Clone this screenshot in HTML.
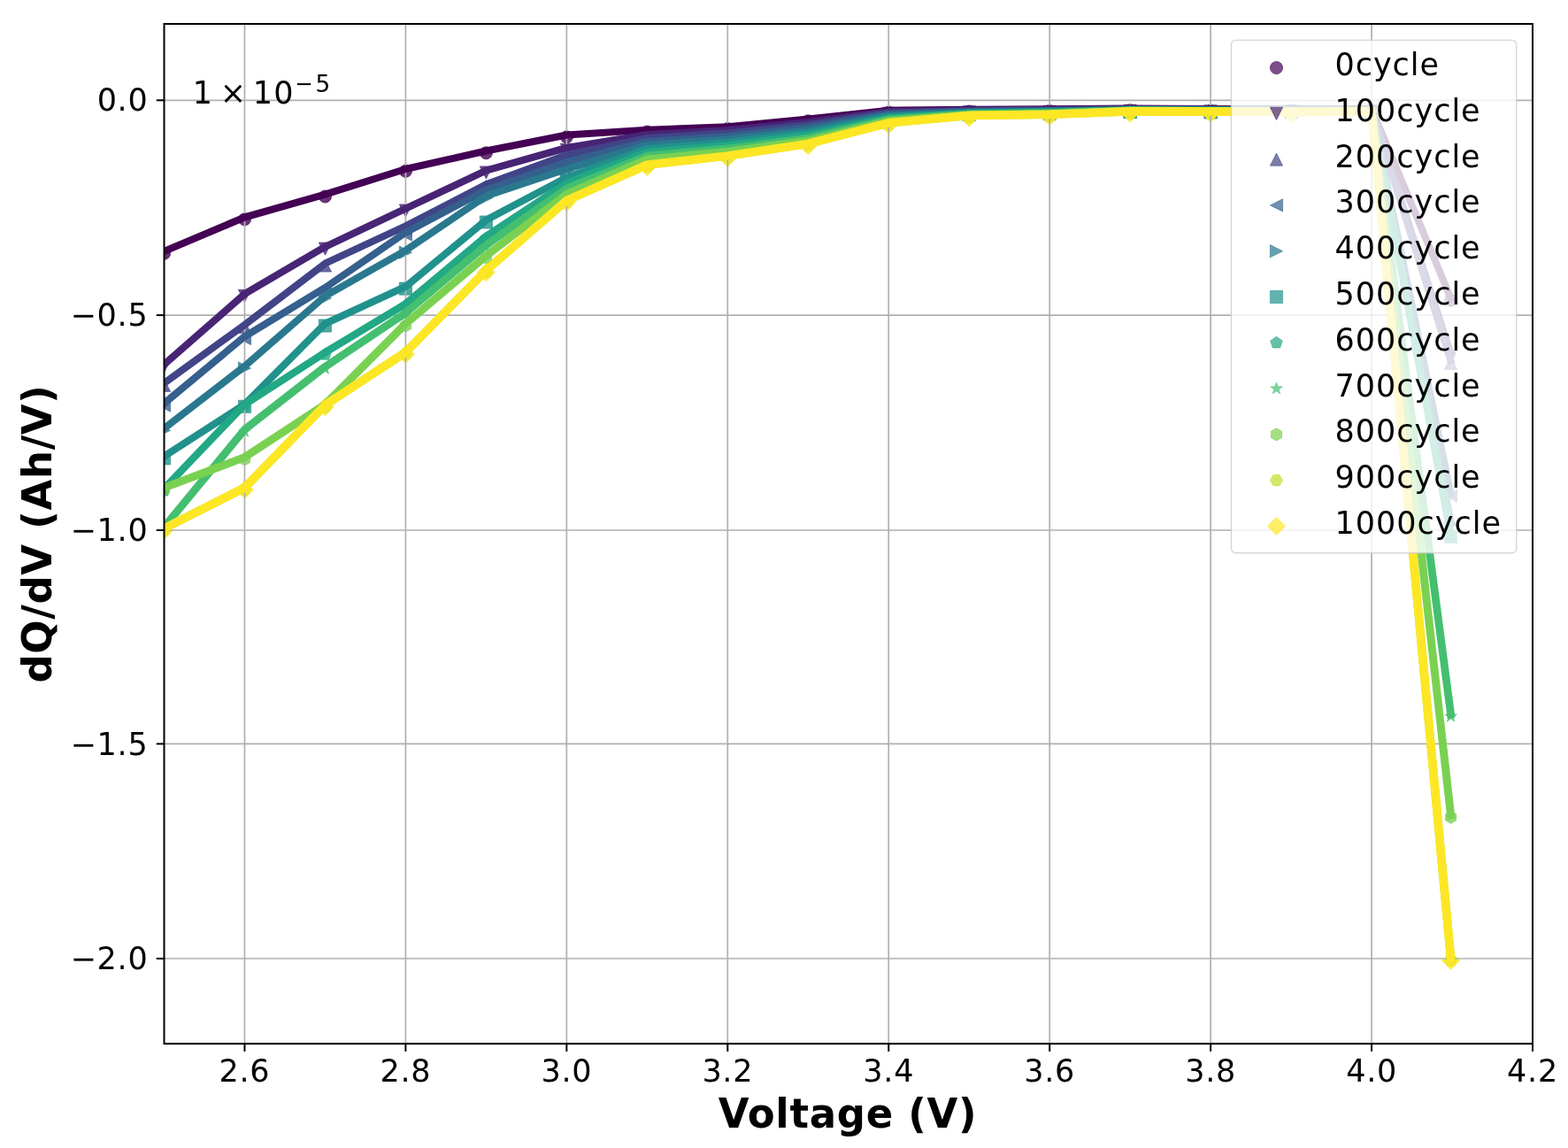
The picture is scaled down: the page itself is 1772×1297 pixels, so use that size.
<!DOCTYPE html>
<html lang="en"><head><meta charset="utf-8"><title>dQ/dV vs Voltage</title>
<style>html,body{margin:0;padding:0;background:#fff;}body{width:1772px;height:1297px;overflow:hidden;}svg text{white-space:pre;}</style>
</head><body>
<svg width="1772" height="1297" viewBox="0 0 1772 1297" style="display:block">
<rect x="0" y="0" width="1772" height="1297" fill="#ffffff"/>
<defs><clipPath id="ax"><rect x="185.5" y="27.0" width="1546.5" height="1152.2"/></clipPath></defs>
<g clip-path="url(#ax)">
<circle cx="185.50" cy="286.30" r="7.10" fill="#440154" stroke="#440154" stroke-width="0.80" fill-opacity="0.8" stroke-opacity="0.8"/>
<circle cx="276.47" cy="247.80" r="7.10" fill="#440154" stroke="#440154" stroke-width="0.80" fill-opacity="0.8" stroke-opacity="0.8"/>
<circle cx="367.44" cy="222.00" r="7.10" fill="#440154" stroke="#440154" stroke-width="0.80" fill-opacity="0.8" stroke-opacity="0.8"/>
<circle cx="458.41" cy="193.30" r="7.10" fill="#440154" stroke="#440154" stroke-width="0.80" fill-opacity="0.8" stroke-opacity="0.8"/>
<circle cx="549.38" cy="172.80" r="7.10" fill="#440154" stroke="#440154" stroke-width="0.80" fill-opacity="0.8" stroke-opacity="0.8"/>
<circle cx="640.35" cy="154.80" r="7.10" fill="#440154" stroke="#440154" stroke-width="0.80" fill-opacity="0.8" stroke-opacity="0.8"/>
<circle cx="731.32" cy="149.00" r="7.10" fill="#440154" stroke="#440154" stroke-width="0.80" fill-opacity="0.8" stroke-opacity="0.8"/>
<circle cx="822.29" cy="145.60" r="7.10" fill="#440154" stroke="#440154" stroke-width="0.80" fill-opacity="0.8" stroke-opacity="0.8"/>
<circle cx="913.26" cy="136.80" r="7.10" fill="#440154" stroke="#440154" stroke-width="0.80" fill-opacity="0.8" stroke-opacity="0.8"/>
<circle cx="1004.24" cy="127.00" r="7.10" fill="#440154" stroke="#440154" stroke-width="0.80" fill-opacity="0.8" stroke-opacity="0.8"/>
<circle cx="1095.21" cy="126.00" r="7.10" fill="#440154" stroke="#440154" stroke-width="0.80" fill-opacity="0.8" stroke-opacity="0.8"/>
<circle cx="1186.18" cy="125.60" r="7.10" fill="#440154" stroke="#440154" stroke-width="0.80" fill-opacity="0.8" stroke-opacity="0.8"/>
<circle cx="1277.15" cy="124.80" r="7.10" fill="#440154" stroke="#440154" stroke-width="0.80" fill-opacity="0.8" stroke-opacity="0.8"/>
<circle cx="1368.12" cy="125.30" r="7.10" fill="#440154" stroke="#440154" stroke-width="0.80" fill-opacity="0.8" stroke-opacity="0.8"/>
<circle cx="1459.09" cy="125.30" r="7.10" fill="#440154" stroke="#440154" stroke-width="0.80" fill-opacity="0.8" stroke-opacity="0.8"/>
<circle cx="1550.06" cy="125.30" r="7.10" fill="#440154" stroke="#440154" stroke-width="0.80" fill-opacity="0.8" stroke-opacity="0.8"/>
<circle cx="1639.57" cy="339.30" r="7.10" fill="#440154" stroke="#440154" stroke-width="0.80" fill-opacity="0.8" stroke-opacity="0.8"/>
<polygon points="185.50,421.10 192.60,406.90 178.40,406.90" fill="#482475" stroke="#482475" stroke-width="0.80" stroke-linejoin="round" fill-opacity="0.8" stroke-opacity="0.8"/>
<polygon points="276.47,341.50 283.57,327.30 269.37,327.30" fill="#482475" stroke="#482475" stroke-width="0.80" stroke-linejoin="round" fill-opacity="0.8" stroke-opacity="0.8"/>
<polygon points="367.44,288.20 374.54,274.00 360.34,274.00" fill="#482475" stroke="#482475" stroke-width="0.80" stroke-linejoin="round" fill-opacity="0.8" stroke-opacity="0.8"/>
<polygon points="458.41,245.10 465.51,230.90 451.31,230.90" fill="#482475" stroke="#482475" stroke-width="0.80" stroke-linejoin="round" fill-opacity="0.8" stroke-opacity="0.8"/>
<polygon points="549.38,202.10 556.48,187.90 542.28,187.90" fill="#482475" stroke="#482475" stroke-width="0.80" stroke-linejoin="round" fill-opacity="0.8" stroke-opacity="0.8"/>
<polygon points="640.35,176.40 647.45,162.20 633.25,162.20" fill="#482475" stroke="#482475" stroke-width="0.80" stroke-linejoin="round" fill-opacity="0.8" stroke-opacity="0.8"/>
<polygon points="731.32,161.40 738.42,147.20 724.22,147.20" fill="#482475" stroke="#482475" stroke-width="0.80" stroke-linejoin="round" fill-opacity="0.8" stroke-opacity="0.8"/>
<polygon points="822.29,156.40 829.39,142.20 815.19,142.20" fill="#482475" stroke="#482475" stroke-width="0.80" stroke-linejoin="round" fill-opacity="0.8" stroke-opacity="0.8"/>
<polygon points="913.26,147.40 920.36,133.20 906.16,133.20" fill="#482475" stroke="#482475" stroke-width="0.80" stroke-linejoin="round" fill-opacity="0.8" stroke-opacity="0.8"/>
<polygon points="1004.24,135.40 1011.34,121.20 997.14,121.20" fill="#482475" stroke="#482475" stroke-width="0.80" stroke-linejoin="round" fill-opacity="0.8" stroke-opacity="0.8"/>
<polygon points="1095.21,133.90 1102.31,119.70 1088.11,119.70" fill="#482475" stroke="#482475" stroke-width="0.80" stroke-linejoin="round" fill-opacity="0.8" stroke-opacity="0.8"/>
<polygon points="1186.18,133.40 1193.28,119.20 1179.08,119.20" fill="#482475" stroke="#482475" stroke-width="0.80" stroke-linejoin="round" fill-opacity="0.8" stroke-opacity="0.8"/>
<polygon points="1277.15,132.40 1284.25,118.20 1270.05,118.20" fill="#482475" stroke="#482475" stroke-width="0.80" stroke-linejoin="round" fill-opacity="0.8" stroke-opacity="0.8"/>
<polygon points="1368.12,132.90 1375.22,118.70 1361.02,118.70" fill="#482475" stroke="#482475" stroke-width="0.80" stroke-linejoin="round" fill-opacity="0.8" stroke-opacity="0.8"/>
<polygon points="1459.09,132.90 1466.19,118.70 1451.99,118.70" fill="#482475" stroke="#482475" stroke-width="0.80" stroke-linejoin="round" fill-opacity="0.8" stroke-opacity="0.8"/>
<polygon points="1550.06,132.90 1557.16,118.70 1542.96,118.70" fill="#482475" stroke="#482475" stroke-width="0.80" stroke-linejoin="round" fill-opacity="0.8" stroke-opacity="0.8"/>
<polygon points="1639.57,409.40 1646.67,395.20 1632.47,395.20" fill="#482475" stroke="#482475" stroke-width="0.80" stroke-linejoin="round" fill-opacity="0.8" stroke-opacity="0.8"/>
<polygon points="185.50,428.20 178.40,442.40 192.60,442.40" fill="#414487" stroke="#414487" stroke-width="0.80" stroke-linejoin="round" fill-opacity="0.8" stroke-opacity="0.8"/>
<polygon points="276.47,362.20 269.37,376.40 283.57,376.40" fill="#414487" stroke="#414487" stroke-width="0.80" stroke-linejoin="round" fill-opacity="0.8" stroke-opacity="0.8"/>
<polygon points="367.44,292.90 360.34,307.10 374.54,307.10" fill="#414487" stroke="#414487" stroke-width="0.80" stroke-linejoin="round" fill-opacity="0.8" stroke-opacity="0.8"/>
<polygon points="458.41,250.60 451.31,264.80 465.51,264.80" fill="#414487" stroke="#414487" stroke-width="0.80" stroke-linejoin="round" fill-opacity="0.8" stroke-opacity="0.8"/>
<polygon points="549.38,203.50 542.28,217.70 556.48,217.70" fill="#414487" stroke="#414487" stroke-width="0.80" stroke-linejoin="round" fill-opacity="0.8" stroke-opacity="0.8"/>
<polygon points="640.35,170.20 633.25,184.40 647.45,184.40" fill="#414487" stroke="#414487" stroke-width="0.80" stroke-linejoin="round" fill-opacity="0.8" stroke-opacity="0.8"/>
<polygon points="731.32,151.20 724.22,165.40 738.42,165.40" fill="#414487" stroke="#414487" stroke-width="0.80" stroke-linejoin="round" fill-opacity="0.8" stroke-opacity="0.8"/>
<polygon points="822.29,145.70 815.19,159.90 829.39,159.90" fill="#414487" stroke="#414487" stroke-width="0.80" stroke-linejoin="round" fill-opacity="0.8" stroke-opacity="0.8"/>
<polygon points="913.26,136.20 906.16,150.40 920.36,150.40" fill="#414487" stroke="#414487" stroke-width="0.80" stroke-linejoin="round" fill-opacity="0.8" stroke-opacity="0.8"/>
<polygon points="1004.24,122.70 997.14,136.90 1011.34,136.90" fill="#414487" stroke="#414487" stroke-width="0.80" stroke-linejoin="round" fill-opacity="0.8" stroke-opacity="0.8"/>
<polygon points="1095.21,120.40 1088.11,134.60 1102.31,134.60" fill="#414487" stroke="#414487" stroke-width="0.80" stroke-linejoin="round" fill-opacity="0.8" stroke-opacity="0.8"/>
<polygon points="1186.18,119.80 1179.08,134.00 1193.28,134.00" fill="#414487" stroke="#414487" stroke-width="0.80" stroke-linejoin="round" fill-opacity="0.8" stroke-opacity="0.8"/>
<polygon points="1277.15,118.60 1270.05,132.80 1284.25,132.80" fill="#414487" stroke="#414487" stroke-width="0.80" stroke-linejoin="round" fill-opacity="0.8" stroke-opacity="0.8"/>
<polygon points="1368.12,119.00 1361.02,133.20 1375.22,133.20" fill="#414487" stroke="#414487" stroke-width="0.80" stroke-linejoin="round" fill-opacity="0.8" stroke-opacity="0.8"/>
<polygon points="1459.09,119.00 1451.99,133.20 1466.19,133.20" fill="#414487" stroke="#414487" stroke-width="0.80" stroke-linejoin="round" fill-opacity="0.8" stroke-opacity="0.8"/>
<polygon points="1550.06,119.00 1542.96,133.20 1557.16,133.20" fill="#414487" stroke="#414487" stroke-width="0.80" stroke-linejoin="round" fill-opacity="0.8" stroke-opacity="0.8"/>
<polygon points="1639.57,403.20 1632.47,417.40 1646.67,417.40" fill="#414487" stroke="#414487" stroke-width="0.80" stroke-linejoin="round" fill-opacity="0.8" stroke-opacity="0.8"/>
<polygon points="178.40,458.00 192.60,465.10 192.60,450.90" fill="#355f8d" stroke="#355f8d" stroke-width="0.80" stroke-linejoin="round" fill-opacity="0.8" stroke-opacity="0.8"/>
<polygon points="269.37,382.50 283.57,389.60 283.57,375.40" fill="#355f8d" stroke="#355f8d" stroke-width="0.80" stroke-linejoin="round" fill-opacity="0.8" stroke-opacity="0.8"/>
<polygon points="360.34,327.30 374.54,334.40 374.54,320.20" fill="#355f8d" stroke="#355f8d" stroke-width="0.80" stroke-linejoin="round" fill-opacity="0.8" stroke-opacity="0.8"/>
<polygon points="451.31,265.00 465.51,272.10 465.51,257.90" fill="#355f8d" stroke="#355f8d" stroke-width="0.80" stroke-linejoin="round" fill-opacity="0.8" stroke-opacity="0.8"/>
<polygon points="542.28,216.90 556.48,224.00 556.48,209.80" fill="#355f8d" stroke="#355f8d" stroke-width="0.80" stroke-linejoin="round" fill-opacity="0.8" stroke-opacity="0.8"/>
<polygon points="633.25,185.30 647.45,192.40 647.45,178.20" fill="#355f8d" stroke="#355f8d" stroke-width="0.80" stroke-linejoin="round" fill-opacity="0.8" stroke-opacity="0.8"/>
<polygon points="724.22,162.30 738.42,169.40 738.42,155.20" fill="#355f8d" stroke="#355f8d" stroke-width="0.80" stroke-linejoin="round" fill-opacity="0.8" stroke-opacity="0.8"/>
<polygon points="815.19,156.30 829.39,163.40 829.39,149.20" fill="#355f8d" stroke="#355f8d" stroke-width="0.80" stroke-linejoin="round" fill-opacity="0.8" stroke-opacity="0.8"/>
<polygon points="906.16,146.30 920.36,153.40 920.36,139.20" fill="#355f8d" stroke="#355f8d" stroke-width="0.80" stroke-linejoin="round" fill-opacity="0.8" stroke-opacity="0.8"/>
<polygon points="997.14,131.30 1011.34,138.40 1011.34,124.20" fill="#355f8d" stroke="#355f8d" stroke-width="0.80" stroke-linejoin="round" fill-opacity="0.8" stroke-opacity="0.8"/>
<polygon points="1088.11,128.30 1102.31,135.40 1102.31,121.20" fill="#355f8d" stroke="#355f8d" stroke-width="0.80" stroke-linejoin="round" fill-opacity="0.8" stroke-opacity="0.8"/>
<polygon points="1179.08,127.50 1193.28,134.60 1193.28,120.40" fill="#355f8d" stroke="#355f8d" stroke-width="0.80" stroke-linejoin="round" fill-opacity="0.8" stroke-opacity="0.8"/>
<polygon points="1270.05,126.10 1284.25,133.20 1284.25,119.00" fill="#355f8d" stroke="#355f8d" stroke-width="0.80" stroke-linejoin="round" fill-opacity="0.8" stroke-opacity="0.8"/>
<polygon points="1361.02,126.40 1375.22,133.50 1375.22,119.30" fill="#355f8d" stroke="#355f8d" stroke-width="0.80" stroke-linejoin="round" fill-opacity="0.8" stroke-opacity="0.8"/>
<polygon points="1451.99,126.40 1466.19,133.50 1466.19,119.30" fill="#355f8d" stroke="#355f8d" stroke-width="0.80" stroke-linejoin="round" fill-opacity="0.8" stroke-opacity="0.8"/>
<polygon points="1542.96,126.40 1557.16,133.50 1557.16,119.30" fill="#355f8d" stroke="#355f8d" stroke-width="0.80" stroke-linejoin="round" fill-opacity="0.8" stroke-opacity="0.8"/>
<polygon points="1632.47,560.30 1646.67,567.40 1646.67,553.20" fill="#355f8d" stroke="#355f8d" stroke-width="0.80" stroke-linejoin="round" fill-opacity="0.8" stroke-opacity="0.8"/>
<polygon points="192.60,486.30 178.40,479.20 178.40,493.40" fill="#2a788e" stroke="#2a788e" stroke-width="0.80" stroke-linejoin="round" fill-opacity="0.8" stroke-opacity="0.8"/>
<polygon points="283.57,416.00 269.37,408.90 269.37,423.10" fill="#2a788e" stroke="#2a788e" stroke-width="0.80" stroke-linejoin="round" fill-opacity="0.8" stroke-opacity="0.8"/>
<polygon points="374.54,336.80 360.34,329.70 360.34,343.90" fill="#2a788e" stroke="#2a788e" stroke-width="0.80" stroke-linejoin="round" fill-opacity="0.8" stroke-opacity="0.8"/>
<polygon points="465.51,285.20 451.31,278.10 451.31,292.30" fill="#2a788e" stroke="#2a788e" stroke-width="0.80" stroke-linejoin="round" fill-opacity="0.8" stroke-opacity="0.8"/>
<polygon points="556.48,223.70 542.28,216.60 542.28,230.80" fill="#2a788e" stroke="#2a788e" stroke-width="0.80" stroke-linejoin="round" fill-opacity="0.8" stroke-opacity="0.8"/>
<polygon points="647.45,193.30 633.25,186.20 633.25,200.40" fill="#2a788e" stroke="#2a788e" stroke-width="0.80" stroke-linejoin="round" fill-opacity="0.8" stroke-opacity="0.8"/>
<polygon points="738.42,166.30 724.22,159.20 724.22,173.40" fill="#2a788e" stroke="#2a788e" stroke-width="0.80" stroke-linejoin="round" fill-opacity="0.8" stroke-opacity="0.8"/>
<polygon points="829.39,159.80 815.19,152.70 815.19,166.90" fill="#2a788e" stroke="#2a788e" stroke-width="0.80" stroke-linejoin="round" fill-opacity="0.8" stroke-opacity="0.8"/>
<polygon points="920.36,149.30 906.16,142.20 906.16,156.40" fill="#2a788e" stroke="#2a788e" stroke-width="0.80" stroke-linejoin="round" fill-opacity="0.8" stroke-opacity="0.8"/>
<polygon points="1011.34,132.80 997.14,125.70 997.14,139.90" fill="#2a788e" stroke="#2a788e" stroke-width="0.80" stroke-linejoin="round" fill-opacity="0.8" stroke-opacity="0.8"/>
<polygon points="1102.31,129.10 1088.11,122.00 1088.11,136.20" fill="#2a788e" stroke="#2a788e" stroke-width="0.80" stroke-linejoin="round" fill-opacity="0.8" stroke-opacity="0.8"/>
<polygon points="1193.28,128.10 1179.08,121.00 1179.08,135.20" fill="#2a788e" stroke="#2a788e" stroke-width="0.80" stroke-linejoin="round" fill-opacity="0.8" stroke-opacity="0.8"/>
<polygon points="1284.25,126.40 1270.05,119.30 1270.05,133.50" fill="#2a788e" stroke="#2a788e" stroke-width="0.80" stroke-linejoin="round" fill-opacity="0.8" stroke-opacity="0.8"/>
<polygon points="1375.22,126.70 1361.02,119.60 1361.02,133.80" fill="#2a788e" stroke="#2a788e" stroke-width="0.80" stroke-linejoin="round" fill-opacity="0.8" stroke-opacity="0.8"/>
<polygon points="1466.19,126.70 1451.99,119.60 1451.99,133.80" fill="#2a788e" stroke="#2a788e" stroke-width="0.80" stroke-linejoin="round" fill-opacity="0.8" stroke-opacity="0.8"/>
<polygon points="1557.16,126.70 1542.96,119.60 1542.96,133.80" fill="#2a788e" stroke="#2a788e" stroke-width="0.80" stroke-linejoin="round" fill-opacity="0.8" stroke-opacity="0.8"/>
<polygon points="1646.67,592.30 1632.47,585.20 1632.47,599.40" fill="#2a788e" stroke="#2a788e" stroke-width="0.80" stroke-linejoin="round" fill-opacity="0.8" stroke-opacity="0.8"/>
<polygon points="178.40,524.90 192.60,524.90 192.60,510.70 178.40,510.70" fill="#21918c" stroke="#21918c" stroke-width="0.80" stroke-linejoin="round" fill-opacity="0.8" stroke-opacity="0.8"/>
<polygon points="269.37,466.40 283.57,466.40 283.57,452.20 269.37,452.20" fill="#21918c" stroke="#21918c" stroke-width="0.80" stroke-linejoin="round" fill-opacity="0.8" stroke-opacity="0.8"/>
<polygon points="360.34,375.10 374.54,375.10 374.54,360.90 360.34,360.90" fill="#21918c" stroke="#21918c" stroke-width="0.80" stroke-linejoin="round" fill-opacity="0.8" stroke-opacity="0.8"/>
<polygon points="451.31,333.20 465.51,333.20 465.51,319.00 451.31,319.00" fill="#21918c" stroke="#21918c" stroke-width="0.80" stroke-linejoin="round" fill-opacity="0.8" stroke-opacity="0.8"/>
<polygon points="542.28,258.10 556.48,258.10 556.48,243.90 542.28,243.90" fill="#21918c" stroke="#21918c" stroke-width="0.80" stroke-linejoin="round" fill-opacity="0.8" stroke-opacity="0.8"/>
<polygon points="633.25,209.90 647.45,209.90 647.45,195.70 633.25,195.70" fill="#21918c" stroke="#21918c" stroke-width="0.80" stroke-linejoin="round" fill-opacity="0.8" stroke-opacity="0.8"/>
<polygon points="724.22,177.40 738.42,177.40 738.42,163.20 724.22,163.20" fill="#21918c" stroke="#21918c" stroke-width="0.80" stroke-linejoin="round" fill-opacity="0.8" stroke-opacity="0.8"/>
<polygon points="815.19,170.40 829.39,170.40 829.39,156.20 815.19,156.20" fill="#21918c" stroke="#21918c" stroke-width="0.80" stroke-linejoin="round" fill-opacity="0.8" stroke-opacity="0.8"/>
<polygon points="906.16,159.40 920.36,159.40 920.36,145.20 906.16,145.20" fill="#21918c" stroke="#21918c" stroke-width="0.80" stroke-linejoin="round" fill-opacity="0.8" stroke-opacity="0.8"/>
<polygon points="997.14,141.40 1011.34,141.40 1011.34,127.20 997.14,127.20" fill="#21918c" stroke="#21918c" stroke-width="0.80" stroke-linejoin="round" fill-opacity="0.8" stroke-opacity="0.8"/>
<polygon points="1088.11,136.90 1102.31,136.90 1102.31,122.70 1088.11,122.70" fill="#21918c" stroke="#21918c" stroke-width="0.80" stroke-linejoin="round" fill-opacity="0.8" stroke-opacity="0.8"/>
<polygon points="1179.08,135.80 1193.28,135.80 1193.28,121.60 1179.08,121.60" fill="#21918c" stroke="#21918c" stroke-width="0.80" stroke-linejoin="round" fill-opacity="0.8" stroke-opacity="0.8"/>
<polygon points="1270.05,133.80 1284.25,133.80 1284.25,119.60 1270.05,119.60" fill="#21918c" stroke="#21918c" stroke-width="0.80" stroke-linejoin="round" fill-opacity="0.8" stroke-opacity="0.8"/>
<polygon points="1361.02,134.10 1375.22,134.10 1375.22,119.90 1361.02,119.90" fill="#21918c" stroke="#21918c" stroke-width="0.80" stroke-linejoin="round" fill-opacity="0.8" stroke-opacity="0.8"/>
<polygon points="1451.99,134.10 1466.19,134.10 1466.19,119.90 1451.99,119.90" fill="#21918c" stroke="#21918c" stroke-width="0.80" stroke-linejoin="round" fill-opacity="0.8" stroke-opacity="0.8"/>
<polygon points="1542.96,134.10 1557.16,134.10 1557.16,119.90 1542.96,119.90" fill="#21918c" stroke="#21918c" stroke-width="0.80" stroke-linejoin="round" fill-opacity="0.8" stroke-opacity="0.8"/>
<polygon points="1632.47,613.40 1646.67,613.40 1646.67,599.20 1632.47,599.20" fill="#21918c" stroke="#21918c" stroke-width="0.80" stroke-linejoin="round" fill-opacity="0.8" stroke-opacity="0.8"/>
<polygon points="185.50,547.20 178.75,552.11 181.33,560.04 189.67,560.04 192.25,552.11" fill="#22a884" stroke="#22a884" stroke-width="0.80" stroke-linejoin="round" fill-opacity="0.8" stroke-opacity="0.8"/>
<polygon points="276.47,452.20 269.72,457.11 272.30,465.04 280.64,465.04 283.22,457.11" fill="#22a884" stroke="#22a884" stroke-width="0.80" stroke-linejoin="round" fill-opacity="0.8" stroke-opacity="0.8"/>
<polygon points="367.44,393.40 360.69,398.31 363.27,406.24 371.61,406.24 374.19,398.31" fill="#22a884" stroke="#22a884" stroke-width="0.80" stroke-linejoin="round" fill-opacity="0.8" stroke-opacity="0.8"/>
<polygon points="458.41,338.50 451.66,343.41 454.24,351.34 462.59,351.34 465.16,343.41" fill="#22a884" stroke="#22a884" stroke-width="0.80" stroke-linejoin="round" fill-opacity="0.8" stroke-opacity="0.8"/>
<polygon points="549.38,262.20 542.63,267.11 545.21,275.04 553.56,275.04 556.13,267.11" fill="#22a884" stroke="#22a884" stroke-width="0.80" stroke-linejoin="round" fill-opacity="0.8" stroke-opacity="0.8"/>
<polygon points="640.35,202.20 633.60,207.11 636.18,215.04 644.53,215.04 647.11,207.11" fill="#22a884" stroke="#22a884" stroke-width="0.80" stroke-linejoin="round" fill-opacity="0.8" stroke-opacity="0.8"/>
<polygon points="731.32,167.20 724.57,172.11 727.15,180.04 735.50,180.04 738.08,172.11" fill="#22a884" stroke="#22a884" stroke-width="0.80" stroke-linejoin="round" fill-opacity="0.8" stroke-opacity="0.8"/>
<polygon points="822.29,159.70 815.54,164.61 818.12,172.54 826.47,172.54 829.05,164.61" fill="#22a884" stroke="#22a884" stroke-width="0.80" stroke-linejoin="round" fill-opacity="0.8" stroke-opacity="0.8"/>
<polygon points="913.26,148.20 906.51,153.11 909.09,161.04 917.44,161.04 920.02,153.11" fill="#22a884" stroke="#22a884" stroke-width="0.80" stroke-linejoin="round" fill-opacity="0.8" stroke-opacity="0.8"/>
<polygon points="1004.24,128.70 997.48,133.61 1000.06,141.54 1008.41,141.54 1010.99,133.61" fill="#22a884" stroke="#22a884" stroke-width="0.80" stroke-linejoin="round" fill-opacity="0.8" stroke-opacity="0.8"/>
<polygon points="1095.21,123.40 1088.45,128.31 1091.03,136.24 1099.38,136.24 1101.96,128.31" fill="#22a884" stroke="#22a884" stroke-width="0.80" stroke-linejoin="round" fill-opacity="0.8" stroke-opacity="0.8"/>
<polygon points="1186.18,122.20 1179.42,127.11 1182.00,135.04 1190.35,135.04 1192.93,127.11" fill="#22a884" stroke="#22a884" stroke-width="0.80" stroke-linejoin="round" fill-opacity="0.8" stroke-opacity="0.8"/>
<polygon points="1277.15,119.90 1270.39,124.81 1272.97,132.74 1281.32,132.74 1283.90,124.81" fill="#22a884" stroke="#22a884" stroke-width="0.80" stroke-linejoin="round" fill-opacity="0.8" stroke-opacity="0.8"/>
<polygon points="1368.12,120.20 1361.37,125.11 1363.94,133.04 1372.29,133.04 1374.87,125.11" fill="#22a884" stroke="#22a884" stroke-width="0.80" stroke-linejoin="round" fill-opacity="0.8" stroke-opacity="0.8"/>
<polygon points="1459.09,120.20 1452.34,125.11 1454.91,133.04 1463.26,133.04 1465.84,125.11" fill="#22a884" stroke="#22a884" stroke-width="0.80" stroke-linejoin="round" fill-opacity="0.8" stroke-opacity="0.8"/>
<polygon points="1550.06,120.20 1543.31,125.11 1545.89,133.04 1554.23,133.04 1556.81,125.11" fill="#22a884" stroke="#22a884" stroke-width="0.80" stroke-linejoin="round" fill-opacity="0.8" stroke-opacity="0.8"/>
<polygon points="1639.57,599.20 1632.82,604.11 1635.40,612.04 1643.75,612.04 1646.33,604.11" fill="#22a884" stroke="#22a884" stroke-width="0.80" stroke-linejoin="round" fill-opacity="0.8" stroke-opacity="0.8"/>
<polygon points="185.50,590.70 183.91,595.61 178.75,595.61 182.92,598.64 181.33,603.54 185.50,600.51 189.67,603.54 188.08,598.64 192.25,595.61 187.09,595.61" fill="#44bf70" stroke="#44bf70" stroke-width="0.80" stroke-linejoin="round" fill-opacity="0.8" stroke-opacity="0.8"/>
<polygon points="276.47,480.50 274.88,485.41 269.72,485.41 273.89,488.44 272.30,493.34 276.47,490.31 280.64,493.34 279.05,488.44 283.22,485.41 278.06,485.41" fill="#44bf70" stroke="#44bf70" stroke-width="0.80" stroke-linejoin="round" fill-opacity="0.8" stroke-opacity="0.8"/>
<polygon points="367.44,409.50 365.85,414.41 360.69,414.41 364.86,417.44 363.27,422.34 367.44,419.31 371.61,422.34 370.02,417.44 374.19,414.41 369.04,414.41" fill="#44bf70" stroke="#44bf70" stroke-width="0.80" stroke-linejoin="round" fill-opacity="0.8" stroke-opacity="0.8"/>
<polygon points="458.41,348.70 456.82,353.61 451.66,353.61 455.83,356.64 454.24,361.54 458.41,358.51 462.59,361.54 460.99,356.64 465.16,353.61 460.01,353.61" fill="#44bf70" stroke="#44bf70" stroke-width="0.80" stroke-linejoin="round" fill-opacity="0.8" stroke-opacity="0.8"/>
<polygon points="549.38,272.20 547.79,277.11 542.63,277.11 546.80,280.14 545.21,285.04 549.38,282.01 553.56,285.04 551.96,280.14 556.13,277.11 550.98,277.11" fill="#44bf70" stroke="#44bf70" stroke-width="0.80" stroke-linejoin="round" fill-opacity="0.8" stroke-opacity="0.8"/>
<polygon points="640.35,208.20 638.76,213.11 633.60,213.11 637.77,216.14 636.18,221.04 640.35,218.01 644.53,221.04 642.93,216.14 647.11,213.11 641.95,213.11" fill="#44bf70" stroke="#44bf70" stroke-width="0.80" stroke-linejoin="round" fill-opacity="0.8" stroke-opacity="0.8"/>
<polygon points="731.32,171.20 729.73,176.11 724.57,176.11 728.74,179.14 727.15,184.04 731.32,181.01 735.50,184.04 733.90,179.14 738.08,176.11 732.92,176.11" fill="#44bf70" stroke="#44bf70" stroke-width="0.80" stroke-linejoin="round" fill-opacity="0.8" stroke-opacity="0.8"/>
<polygon points="822.29,163.20 820.70,168.11 815.54,168.11 819.71,171.14 818.12,176.04 822.29,173.01 826.47,176.04 824.87,171.14 829.05,168.11 823.89,168.11" fill="#44bf70" stroke="#44bf70" stroke-width="0.80" stroke-linejoin="round" fill-opacity="0.8" stroke-opacity="0.8"/>
<polygon points="913.26,151.20 911.67,156.11 906.51,156.11 910.69,159.14 909.09,164.04 913.26,161.01 917.44,164.04 915.84,159.14 920.02,156.11 914.86,156.11" fill="#44bf70" stroke="#44bf70" stroke-width="0.80" stroke-linejoin="round" fill-opacity="0.8" stroke-opacity="0.8"/>
<polygon points="1004.24,130.20 1002.64,135.11 997.48,135.11 1001.66,138.14 1000.06,143.04 1004.24,140.01 1008.41,143.04 1006.81,138.14 1010.99,135.11 1005.83,135.11" fill="#44bf70" stroke="#44bf70" stroke-width="0.80" stroke-linejoin="round" fill-opacity="0.8" stroke-opacity="0.8"/>
<polygon points="1095.21,124.20 1093.61,129.11 1088.45,129.11 1092.63,132.14 1091.03,137.04 1095.21,134.01 1099.38,137.04 1097.79,132.14 1101.96,129.11 1096.80,129.11" fill="#44bf70" stroke="#44bf70" stroke-width="0.80" stroke-linejoin="round" fill-opacity="0.8" stroke-opacity="0.8"/>
<polygon points="1186.18,122.80 1184.58,127.71 1179.42,127.71 1183.60,130.74 1182.00,135.64 1186.18,132.61 1190.35,135.64 1188.76,130.74 1192.93,127.71 1187.77,127.71" fill="#44bf70" stroke="#44bf70" stroke-width="0.80" stroke-linejoin="round" fill-opacity="0.8" stroke-opacity="0.8"/>
<polygon points="1277.15,120.20 1275.55,125.11 1270.39,125.11 1274.57,128.14 1272.97,133.04 1277.15,130.01 1281.32,133.04 1279.73,128.14 1283.90,125.11 1278.74,125.11" fill="#44bf70" stroke="#44bf70" stroke-width="0.80" stroke-linejoin="round" fill-opacity="0.8" stroke-opacity="0.8"/>
<polygon points="1368.12,120.50 1366.52,125.41 1361.37,125.41 1365.54,128.44 1363.94,133.34 1368.12,130.31 1372.29,133.34 1370.70,128.44 1374.87,125.41 1369.71,125.41" fill="#44bf70" stroke="#44bf70" stroke-width="0.80" stroke-linejoin="round" fill-opacity="0.8" stroke-opacity="0.8"/>
<polygon points="1459.09,120.50 1457.49,125.41 1452.34,125.41 1456.51,128.44 1454.91,133.34 1459.09,130.31 1463.26,133.34 1461.67,128.44 1465.84,125.41 1460.68,125.41" fill="#44bf70" stroke="#44bf70" stroke-width="0.80" stroke-linejoin="round" fill-opacity="0.8" stroke-opacity="0.8"/>
<polygon points="1550.06,120.50 1548.46,125.41 1543.31,125.41 1547.48,128.44 1545.89,133.34 1550.06,130.31 1554.23,133.34 1552.64,128.44 1556.81,125.41 1551.65,125.41" fill="#44bf70" stroke="#44bf70" stroke-width="0.80" stroke-linejoin="round" fill-opacity="0.8" stroke-opacity="0.8"/>
<polygon points="1639.57,802.20 1637.98,807.11 1632.82,807.11 1636.99,810.14 1635.40,815.04 1639.57,812.01 1643.75,815.04 1642.15,810.14 1646.33,807.11 1641.17,807.11" fill="#44bf70" stroke="#44bf70" stroke-width="0.80" stroke-linejoin="round" fill-opacity="0.8" stroke-opacity="0.8"/>
<polygon points="185.50,546.20 179.35,549.75 179.35,556.85 185.50,560.40 191.65,556.85 191.65,549.75" fill="#7ad151" stroke="#7ad151" stroke-width="0.80" stroke-linejoin="round" fill-opacity="0.8" stroke-opacity="0.8"/>
<polygon points="276.47,511.80 270.32,515.35 270.32,522.45 276.47,526.00 282.62,522.45 282.62,515.35" fill="#7ad151" stroke="#7ad151" stroke-width="0.80" stroke-linejoin="round" fill-opacity="0.8" stroke-opacity="0.8"/>
<polygon points="367.44,452.20 361.29,455.75 361.29,462.85 367.44,466.40 373.59,462.85 373.59,455.75" fill="#7ad151" stroke="#7ad151" stroke-width="0.80" stroke-linejoin="round" fill-opacity="0.8" stroke-opacity="0.8"/>
<polygon points="458.41,360.90 452.26,364.45 452.26,371.55 458.41,375.10 464.56,371.55 464.56,364.45" fill="#7ad151" stroke="#7ad151" stroke-width="0.80" stroke-linejoin="round" fill-opacity="0.8" stroke-opacity="0.8"/>
<polygon points="549.38,284.20 543.23,287.75 543.23,294.85 549.38,298.40 555.53,294.85 555.53,287.75" fill="#7ad151" stroke="#7ad151" stroke-width="0.80" stroke-linejoin="round" fill-opacity="0.8" stroke-opacity="0.8"/>
<polygon points="640.35,214.70 634.20,218.25 634.20,225.35 640.35,228.90 646.50,225.35 646.50,218.25" fill="#7ad151" stroke="#7ad151" stroke-width="0.80" stroke-linejoin="round" fill-opacity="0.8" stroke-opacity="0.8"/>
<polygon points="731.32,175.20 725.17,178.75 725.17,185.85 731.32,189.40 737.47,185.85 737.47,178.75" fill="#7ad151" stroke="#7ad151" stroke-width="0.80" stroke-linejoin="round" fill-opacity="0.8" stroke-opacity="0.8"/>
<polygon points="822.29,166.70 816.15,170.25 816.15,177.35 822.29,180.90 828.44,177.35 828.44,170.25" fill="#7ad151" stroke="#7ad151" stroke-width="0.80" stroke-linejoin="round" fill-opacity="0.8" stroke-opacity="0.8"/>
<polygon points="913.26,154.20 907.12,157.75 907.12,164.85 913.26,168.40 919.41,164.85 919.41,157.75" fill="#7ad151" stroke="#7ad151" stroke-width="0.80" stroke-linejoin="round" fill-opacity="0.8" stroke-opacity="0.8"/>
<polygon points="1004.24,131.70 998.09,135.25 998.09,142.35 1004.24,145.90 1010.38,142.35 1010.38,135.25" fill="#7ad151" stroke="#7ad151" stroke-width="0.80" stroke-linejoin="round" fill-opacity="0.8" stroke-opacity="0.8"/>
<polygon points="1095.21,125.00 1089.06,128.55 1089.06,135.65 1095.21,139.20 1101.35,135.65 1101.35,128.55" fill="#7ad151" stroke="#7ad151" stroke-width="0.80" stroke-linejoin="round" fill-opacity="0.8" stroke-opacity="0.8"/>
<polygon points="1186.18,123.60 1180.03,127.15 1180.03,134.25 1186.18,137.80 1192.33,134.25 1192.33,127.15" fill="#7ad151" stroke="#7ad151" stroke-width="0.80" stroke-linejoin="round" fill-opacity="0.8" stroke-opacity="0.8"/>
<polygon points="1277.15,120.50 1271.00,124.05 1271.00,131.15 1277.15,134.70 1283.30,131.15 1283.30,124.05" fill="#7ad151" stroke="#7ad151" stroke-width="0.80" stroke-linejoin="round" fill-opacity="0.8" stroke-opacity="0.8"/>
<polygon points="1368.12,120.80 1361.97,124.35 1361.97,131.45 1368.12,135.00 1374.27,131.45 1374.27,124.35" fill="#7ad151" stroke="#7ad151" stroke-width="0.80" stroke-linejoin="round" fill-opacity="0.8" stroke-opacity="0.8"/>
<polygon points="1459.09,120.80 1452.94,124.35 1452.94,131.45 1459.09,135.00 1465.24,131.45 1465.24,124.35" fill="#7ad151" stroke="#7ad151" stroke-width="0.80" stroke-linejoin="round" fill-opacity="0.8" stroke-opacity="0.8"/>
<polygon points="1550.06,120.80 1543.91,124.35 1543.91,131.45 1550.06,135.00 1556.21,131.45 1556.21,124.35" fill="#7ad151" stroke="#7ad151" stroke-width="0.80" stroke-linejoin="round" fill-opacity="0.8" stroke-opacity="0.8"/>
<polygon points="1639.57,916.20 1633.43,919.75 1633.43,926.85 1639.57,930.40 1645.72,926.85 1645.72,919.75" fill="#7ad151" stroke="#7ad151" stroke-width="0.80" stroke-linejoin="round" fill-opacity="0.8" stroke-opacity="0.8"/>
<polygon points="181.95,593.15 178.40,599.30 181.95,605.45 189.05,605.45 192.60,599.30 189.05,593.15" fill="#bddf26" stroke="#bddf26" stroke-width="0.80" stroke-linejoin="round" fill-opacity="0.8" stroke-opacity="0.8"/>
<polygon points="272.92,547.15 269.37,553.30 272.92,559.45 280.02,559.45 283.57,553.30 280.02,547.15" fill="#bddf26" stroke="#bddf26" stroke-width="0.80" stroke-linejoin="round" fill-opacity="0.8" stroke-opacity="0.8"/>
<polygon points="363.89,453.65 360.34,459.80 363.89,465.95 370.99,465.95 374.54,459.80 370.99,453.65" fill="#bddf26" stroke="#bddf26" stroke-width="0.80" stroke-linejoin="round" fill-opacity="0.8" stroke-opacity="0.8"/>
<polygon points="454.86,394.15 451.31,400.30 454.86,406.45 461.96,406.45 465.51,400.30 461.96,394.15" fill="#bddf26" stroke="#bddf26" stroke-width="0.80" stroke-linejoin="round" fill-opacity="0.8" stroke-opacity="0.8"/>
<polygon points="545.83,301.65 542.28,307.80 545.83,313.95 552.93,313.95 556.48,307.80 552.93,301.65" fill="#bddf26" stroke="#bddf26" stroke-width="0.80" stroke-linejoin="round" fill-opacity="0.8" stroke-opacity="0.8"/>
<polygon points="636.80,222.65 633.25,228.80 636.80,234.95 643.90,234.95 647.45,228.80 643.90,222.65" fill="#bddf26" stroke="#bddf26" stroke-width="0.80" stroke-linejoin="round" fill-opacity="0.8" stroke-opacity="0.8"/>
<polygon points="727.77,182.35 724.22,188.50 727.77,194.65 734.87,194.65 738.42,188.50 734.87,182.35" fill="#bddf26" stroke="#bddf26" stroke-width="0.80" stroke-linejoin="round" fill-opacity="0.8" stroke-opacity="0.8"/>
<polygon points="818.74,172.25 815.19,178.40 818.74,184.55 825.84,184.55 829.39,178.40 825.84,172.25" fill="#bddf26" stroke="#bddf26" stroke-width="0.80" stroke-linejoin="round" fill-opacity="0.8" stroke-opacity="0.8"/>
<polygon points="909.71,158.55 906.16,164.70 909.71,170.85 916.81,170.85 920.36,164.70 916.81,158.55" fill="#bddf26" stroke="#bddf26" stroke-width="0.80" stroke-linejoin="round" fill-opacity="0.8" stroke-opacity="0.8"/>
<polygon points="1000.69,134.95 997.14,141.10 1000.69,147.25 1007.79,147.25 1011.34,141.10 1007.79,134.95" fill="#bddf26" stroke="#bddf26" stroke-width="0.80" stroke-linejoin="round" fill-opacity="0.8" stroke-opacity="0.8"/>
<polygon points="1091.66,126.75 1088.11,132.90 1091.66,139.05 1098.76,139.05 1102.31,132.90 1098.76,126.75" fill="#bddf26" stroke="#bddf26" stroke-width="0.80" stroke-linejoin="round" fill-opacity="0.8" stroke-opacity="0.8"/>
<polygon points="1182.63,125.45 1179.08,131.60 1182.63,137.75 1189.73,137.75 1193.28,131.60 1189.73,125.45" fill="#bddf26" stroke="#bddf26" stroke-width="0.80" stroke-linejoin="round" fill-opacity="0.8" stroke-opacity="0.8"/>
<polygon points="1273.60,121.95 1270.05,128.10 1273.60,134.25 1280.70,134.25 1284.25,128.10 1280.70,121.95" fill="#bddf26" stroke="#bddf26" stroke-width="0.80" stroke-linejoin="round" fill-opacity="0.8" stroke-opacity="0.8"/>
<polygon points="1364.57,122.15 1361.02,128.30 1364.57,134.45 1371.67,134.45 1375.22,128.30 1371.67,122.15" fill="#bddf26" stroke="#bddf26" stroke-width="0.80" stroke-linejoin="round" fill-opacity="0.8" stroke-opacity="0.8"/>
<polygon points="1455.54,122.65 1451.99,128.80 1455.54,134.95 1462.64,134.95 1466.19,128.80 1462.64,122.65" fill="#bddf26" stroke="#bddf26" stroke-width="0.80" stroke-linejoin="round" fill-opacity="0.8" stroke-opacity="0.8"/>
<polygon points="1546.51,122.15 1542.96,128.30 1546.51,134.45 1553.61,134.45 1557.16,128.30 1553.61,122.15" fill="#bddf26" stroke="#bddf26" stroke-width="0.80" stroke-linejoin="round" fill-opacity="0.8" stroke-opacity="0.8"/>
<polygon points="1636.02,1079.15 1632.47,1085.30 1636.02,1091.45 1643.12,1091.45 1646.67,1085.30 1643.12,1079.15" fill="#bddf26" stroke="#bddf26" stroke-width="0.80" stroke-linejoin="round" fill-opacity="0.8" stroke-opacity="0.8"/>
<polygon points="185.50,609.34 195.54,599.30 185.50,589.26 175.46,599.30" fill="#fde725" stroke="#fde725" stroke-width="0.80" stroke-linejoin="round" fill-opacity="0.8" stroke-opacity="0.8"/>
<polygon points="276.47,563.34 286.51,553.30 276.47,543.26 266.43,553.30" fill="#fde725" stroke="#fde725" stroke-width="0.80" stroke-linejoin="round" fill-opacity="0.8" stroke-opacity="0.8"/>
<polygon points="367.44,469.84 377.48,459.80 367.44,449.76 357.40,459.80" fill="#fde725" stroke="#fde725" stroke-width="0.80" stroke-linejoin="round" fill-opacity="0.8" stroke-opacity="0.8"/>
<polygon points="458.41,410.34 468.45,400.30 458.41,390.26 448.37,400.30" fill="#fde725" stroke="#fde725" stroke-width="0.80" stroke-linejoin="round" fill-opacity="0.8" stroke-opacity="0.8"/>
<polygon points="549.38,317.84 559.42,307.80 549.38,297.76 539.34,307.80" fill="#fde725" stroke="#fde725" stroke-width="0.80" stroke-linejoin="round" fill-opacity="0.8" stroke-opacity="0.8"/>
<polygon points="640.35,238.84 650.39,228.80 640.35,218.76 630.31,228.80" fill="#fde725" stroke="#fde725" stroke-width="0.80" stroke-linejoin="round" fill-opacity="0.8" stroke-opacity="0.8"/>
<polygon points="731.32,198.54 741.36,188.50 731.32,178.46 721.28,188.50" fill="#fde725" stroke="#fde725" stroke-width="0.80" stroke-linejoin="round" fill-opacity="0.8" stroke-opacity="0.8"/>
<polygon points="822.29,188.44 832.34,178.40 822.29,168.36 812.25,178.40" fill="#fde725" stroke="#fde725" stroke-width="0.80" stroke-linejoin="round" fill-opacity="0.8" stroke-opacity="0.8"/>
<polygon points="913.26,174.74 923.31,164.70 913.26,154.66 903.22,164.70" fill="#fde725" stroke="#fde725" stroke-width="0.80" stroke-linejoin="round" fill-opacity="0.8" stroke-opacity="0.8"/>
<polygon points="1004.24,151.14 1014.28,141.10 1004.24,131.06 994.19,141.10" fill="#fde725" stroke="#fde725" stroke-width="0.80" stroke-linejoin="round" fill-opacity="0.8" stroke-opacity="0.8"/>
<polygon points="1095.21,142.94 1105.25,132.90 1095.21,122.86 1085.16,132.90" fill="#fde725" stroke="#fde725" stroke-width="0.80" stroke-linejoin="round" fill-opacity="0.8" stroke-opacity="0.8"/>
<polygon points="1186.18,141.64 1196.22,131.60 1186.18,121.56 1176.14,131.60" fill="#fde725" stroke="#fde725" stroke-width="0.80" stroke-linejoin="round" fill-opacity="0.8" stroke-opacity="0.8"/>
<polygon points="1277.15,138.14 1287.19,128.10 1277.15,118.06 1267.11,128.10" fill="#fde725" stroke="#fde725" stroke-width="0.80" stroke-linejoin="round" fill-opacity="0.8" stroke-opacity="0.8"/>
<polygon points="1368.12,138.34 1378.16,128.30 1368.12,118.26 1358.08,128.30" fill="#fde725" stroke="#fde725" stroke-width="0.80" stroke-linejoin="round" fill-opacity="0.8" stroke-opacity="0.8"/>
<polygon points="1459.09,138.84 1469.13,128.80 1459.09,118.76 1449.05,128.80" fill="#fde725" stroke="#fde725" stroke-width="0.80" stroke-linejoin="round" fill-opacity="0.8" stroke-opacity="0.8"/>
<polygon points="1550.06,138.34 1560.10,128.30 1550.06,118.26 1540.02,128.30" fill="#fde725" stroke="#fde725" stroke-width="0.80" stroke-linejoin="round" fill-opacity="0.8" stroke-opacity="0.8"/>
<polygon points="1639.57,1095.34 1649.61,1085.30 1639.57,1075.26 1629.53,1085.30" fill="#fde725" stroke="#fde725" stroke-width="0.80" stroke-linejoin="round" fill-opacity="0.8" stroke-opacity="0.8"/>
</g>
<g stroke="#b0b0b0" stroke-width="1.70" fill="none">
<line x1="276.47" y1="27.0" x2="276.47" y2="1179.2"/>
<line x1="458.41" y1="27.0" x2="458.41" y2="1179.2"/>
<line x1="640.35" y1="27.0" x2="640.35" y2="1179.2"/>
<line x1="822.29" y1="27.0" x2="822.29" y2="1179.2"/>
<line x1="1004.24" y1="27.0" x2="1004.24" y2="1179.2"/>
<line x1="1186.18" y1="27.0" x2="1186.18" y2="1179.2"/>
<line x1="1368.12" y1="27.0" x2="1368.12" y2="1179.2"/>
<line x1="1550.06" y1="27.0" x2="1550.06" y2="1179.2"/>
<line x1="1732.00" y1="27.0" x2="1732.00" y2="1179.2"/>
<line x1="185.5" y1="113.30" x2="1732.0" y2="113.30"/>
<line x1="185.5" y1="356.10" x2="1732.0" y2="356.10"/>
<line x1="185.5" y1="599.00" x2="1732.0" y2="599.00"/>
<line x1="185.5" y1="840.40" x2="1732.0" y2="840.40"/>
<line x1="185.5" y1="1083.00" x2="1732.0" y2="1083.00"/>
</g>
<g clip-path="url(#ax)" fill="none" stroke-linejoin="round" stroke-linecap="square">
<polyline points="185.50,284.00 276.47,245.50 367.44,219.70 458.41,191.00 549.38,170.50 640.35,152.50 731.32,146.70 822.29,143.30 913.26,134.50 1004.24,124.70 1095.21,123.70 1186.18,123.30 1277.15,122.50 1368.12,123.00 1459.09,123.00 1550.06,123.00 1639.57,337.00" stroke="#440154" stroke-width="8.10"/>
<polyline points="185.50,411.70 276.47,332.10 367.44,278.80 458.41,235.70 549.38,192.70 640.35,167.00 731.32,152.00 822.29,147.00 913.26,138.00 1004.24,126.00 1095.21,124.50 1186.18,124.00 1277.15,123.00 1368.12,123.50 1459.09,123.50 1550.06,123.50 1639.57,400.00" stroke="#482475" stroke-width="8.10"/>
<polyline points="185.50,433.00 276.47,367.00 367.44,297.70 458.41,255.40 549.38,208.30 640.35,175.00 731.32,156.00 822.29,150.50 913.26,141.00 1004.24,127.50 1095.21,125.20 1186.18,124.60 1277.15,123.40 1368.12,123.80 1459.09,123.80 1550.06,123.80 1639.57,408.00" stroke="#414487" stroke-width="8.10"/>
<polyline points="185.50,455.70 276.47,380.20 367.44,325.00 458.41,262.70 549.38,214.60 640.35,183.00 731.32,160.00 822.29,154.00 913.26,144.00 1004.24,129.00 1095.21,126.00 1186.18,125.20 1277.15,123.80 1368.12,124.10 1459.09,124.10 1550.06,124.10 1639.57,558.00" stroke="#355f8d" stroke-width="8.10"/>
<polyline points="185.50,484.00 276.47,413.70 367.44,334.50 458.41,282.90 549.38,221.40 640.35,191.00 731.32,164.00 822.29,157.50 913.26,147.00 1004.24,130.50 1095.21,126.80 1186.18,125.80 1277.15,124.10 1368.12,124.40 1459.09,124.40 1550.06,124.40 1639.57,590.00" stroke="#2a788e" stroke-width="8.10"/>
<polyline points="185.50,515.50 276.47,457.00 367.44,365.70 458.41,323.80 549.38,248.70 640.35,200.50 731.32,168.00 822.29,161.00 913.26,150.00 1004.24,132.00 1095.21,127.50 1186.18,126.40 1277.15,124.40 1368.12,124.70 1459.09,124.70 1550.06,124.70 1639.57,604.00" stroke="#21918c" stroke-width="8.20"/>
<polyline points="185.50,552.00 276.47,457.00 367.44,398.20 458.41,343.30 549.38,267.00 640.35,207.00 731.32,172.00 822.29,164.50 913.26,153.00 1004.24,133.50 1095.21,128.20 1186.18,127.00 1277.15,124.70 1368.12,125.00 1459.09,125.00 1550.06,125.00 1639.57,604.00" stroke="#22a884" stroke-width="8.40"/>
<polyline points="185.50,595.50 276.47,485.30 367.44,414.30 458.41,353.50 549.38,277.00 640.35,213.00 731.32,176.00 822.29,168.00 913.26,156.00 1004.24,135.00 1095.21,129.00 1186.18,127.60 1277.15,125.00 1368.12,125.30 1459.09,125.30 1550.06,125.30 1639.57,807.00" stroke="#44bf70" stroke-width="8.80"/>
<polyline points="185.50,551.00 276.47,516.60 367.44,457.00 458.41,365.70 549.38,289.00 640.35,219.50 731.32,180.00 822.29,171.50 913.26,159.00 1004.24,136.50 1095.21,129.80 1186.18,128.40 1277.15,125.30 1368.12,125.60 1459.09,125.60 1550.06,125.60 1639.57,921.00" stroke="#7ad151" stroke-width="9.00"/>
<polyline points="185.50,597.00 276.47,551.00 367.44,457.50 458.41,398.00 549.38,305.50 640.35,226.50 731.32,186.20 822.29,176.10 913.26,162.40 1004.24,138.80 1095.21,130.60 1186.18,129.30 1277.15,125.80 1368.12,126.00 1459.09,126.50 1550.06,126.00 1639.57,1083.00" stroke="#bddf26" stroke-width="9.50"/>
<polyline points="185.50,597.00 276.47,551.00 367.44,457.50 458.41,398.00 549.38,305.50 640.35,226.50 731.32,186.20 822.29,176.10 913.26,162.40 1004.24,138.80 1095.21,130.60 1186.18,129.30 1277.15,125.80 1368.12,126.00 1459.09,126.50 1550.06,126.00 1639.57,1083.00" stroke="#fde725" stroke-width="9.50"/>
</g>
<rect x="185.5" y="27.0" width="1546.5" height="1152.2" fill="none" stroke="#000" stroke-width="2.00"/>
<g stroke="#000" stroke-width="2.00">
<line x1="276.47" y1="1179.2" x2="276.47" y2="1187.95"/>
<line x1="458.41" y1="1179.2" x2="458.41" y2="1187.95"/>
<line x1="640.35" y1="1179.2" x2="640.35" y2="1187.95"/>
<line x1="822.29" y1="1179.2" x2="822.29" y2="1187.95"/>
<line x1="1004.24" y1="1179.2" x2="1004.24" y2="1187.95"/>
<line x1="1186.18" y1="1179.2" x2="1186.18" y2="1187.95"/>
<line x1="1368.12" y1="1179.2" x2="1368.12" y2="1187.95"/>
<line x1="1550.06" y1="1179.2" x2="1550.06" y2="1187.95"/>
<line x1="1732.00" y1="1179.2" x2="1732.00" y2="1187.95"/>
<line x1="185.5" y1="113.30" x2="176.75" y2="113.30"/>
<line x1="185.5" y1="356.10" x2="176.75" y2="356.10"/>
<line x1="185.5" y1="599.00" x2="176.75" y2="599.00"/>
<line x1="185.5" y1="840.40" x2="176.75" y2="840.40"/>
<line x1="185.5" y1="1083.00" x2="176.75" y2="1083.00"/>
</g>
<g font-family="DejaVu Sans, Liberation Sans, sans-serif" letter-spacing="0.7" font-size="35.00" fill="#000">
<text x="276.47" y="1221.70" text-anchor="middle">2.6</text>
<text x="458.41" y="1221.70" text-anchor="middle">2.8</text>
<text x="640.35" y="1221.70" text-anchor="middle">3.0</text>
<text x="822.29" y="1221.70" text-anchor="middle">3.2</text>
<text x="1004.24" y="1221.70" text-anchor="middle">3.4</text>
<text x="1186.18" y="1221.70" text-anchor="middle">3.6</text>
<text x="1368.12" y="1221.70" text-anchor="middle">3.8</text>
<text x="1550.06" y="1221.70" text-anchor="middle">4.0</text>
<text x="1732.00" y="1221.70" text-anchor="middle">4.2</text>
<text x="167.40" y="125.40" text-anchor="end">0.0</text>
<text x="167.40" y="368.20" text-anchor="end">−0.5</text>
<text x="167.40" y="611.10" text-anchor="end">−1.0</text>
<text x="167.40" y="852.50" text-anchor="end">−1.5</text>
<text x="167.40" y="1095.10" text-anchor="end">−2.0</text>
<text x="217.70" y="117.20">1<tspan dx="8.00">×</tspan><tspan dx="7.00" letter-spacing="1.2">10</tspan><tspan font-size="24.50" dx="0.6" dy="-14.00">−</tspan><tspan font-size="26.25" dx="2.0" dy="1.0">5</tspan></text>
</g>
<g font-family="DejaVu Sans, Liberation Sans, sans-serif" letter-spacing="0.7" font-size="45.00" font-weight="bold" fill="#000">
<text transform="translate(958.00,1273.60) scale(1,1.045)" text-anchor="middle">Voltage (V)</text>
<text transform="translate(58.00,603.00) rotate(-90) scale(1,1.045)" text-anchor="middle">dQ/dV (Ah/V)</text>
</g>
<rect x="1391.5" y="45.4" width="322.20000000000005" height="579.4" rx="5.0" ry="5.0" fill="#ffffff" fill-opacity="0.8" stroke="#cccccc" stroke-opacity="0.8" stroke-width="1.40"/>
<g font-family="DejaVu Sans, Liberation Sans, sans-serif" letter-spacing="1.0" font-size="35.00" fill="#000">
<circle cx="1442.50" cy="76.60" r="7.10" fill="#440154" stroke="#440154" stroke-width="0.80" fill-opacity="0.7" stroke-opacity="0.7"/>
<text x="1508.40" y="85.10">0cycle</text>
<polygon points="1442.50,135.48 1449.60,121.28 1435.40,121.28" fill="#482475" stroke="#482475" stroke-width="0.80" stroke-linejoin="round" fill-opacity="0.7" stroke-opacity="0.7"/>
<text x="1508.40" y="136.88">100cycle</text>
<polygon points="1442.50,173.06 1435.40,187.26 1449.60,187.26" fill="#414487" stroke="#414487" stroke-width="0.80" stroke-linejoin="round" fill-opacity="0.7" stroke-opacity="0.7"/>
<text x="1508.40" y="188.66">200cycle</text>
<polygon points="1435.40,231.94 1449.60,239.04 1449.60,224.84" fill="#355f8d" stroke="#355f8d" stroke-width="0.80" stroke-linejoin="round" fill-opacity="0.7" stroke-opacity="0.7"/>
<text x="1508.40" y="240.44">300cycle</text>
<polygon points="1449.60,283.72 1435.40,276.62 1435.40,290.82" fill="#2a788e" stroke="#2a788e" stroke-width="0.80" stroke-linejoin="round" fill-opacity="0.7" stroke-opacity="0.7"/>
<text x="1508.40" y="292.22">400cycle</text>
<polygon points="1435.40,342.60 1449.60,342.60 1449.60,328.40 1435.40,328.40" fill="#21918c" stroke="#21918c" stroke-width="0.80" stroke-linejoin="round" fill-opacity="0.7" stroke-opacity="0.7"/>
<text x="1508.40" y="344.00">500cycle</text>
<polygon points="1442.50,380.18 1435.75,385.09 1438.33,393.02 1446.67,393.02 1449.25,385.09" fill="#22a884" stroke="#22a884" stroke-width="0.80" stroke-linejoin="round" fill-opacity="0.7" stroke-opacity="0.7"/>
<text x="1508.40" y="395.78">600cycle</text>
<polygon points="1442.50,431.96 1440.91,436.87 1435.75,436.87 1439.92,439.90 1438.33,444.80 1442.50,441.77 1446.67,444.80 1445.08,439.90 1449.25,436.87 1444.09,436.87" fill="#44bf70" stroke="#44bf70" stroke-width="0.80" stroke-linejoin="round" fill-opacity="0.7" stroke-opacity="0.7"/>
<text x="1508.40" y="447.56">700cycle</text>
<polygon points="1442.50,483.74 1436.35,487.29 1436.35,494.39 1442.50,497.94 1448.65,494.39 1448.65,487.29" fill="#7ad151" stroke="#7ad151" stroke-width="0.80" stroke-linejoin="round" fill-opacity="0.7" stroke-opacity="0.7"/>
<text x="1508.40" y="499.34">800cycle</text>
<polygon points="1438.95,536.47 1435.40,542.62 1438.95,548.77 1446.05,548.77 1449.60,542.62 1446.05,536.47" fill="#bddf26" stroke="#bddf26" stroke-width="0.80" stroke-linejoin="round" fill-opacity="0.7" stroke-opacity="0.7"/>
<text x="1508.40" y="551.12">900cycle</text>
<polygon points="1442.50,604.44 1452.54,594.40 1442.50,584.36 1432.46,594.40" fill="#fde725" stroke="#fde725" stroke-width="0.80" stroke-linejoin="round" fill-opacity="0.7" stroke-opacity="0.7"/>
<text x="1508.40" y="602.90">1000cycle</text>
</g>
</svg>
</body></html>
